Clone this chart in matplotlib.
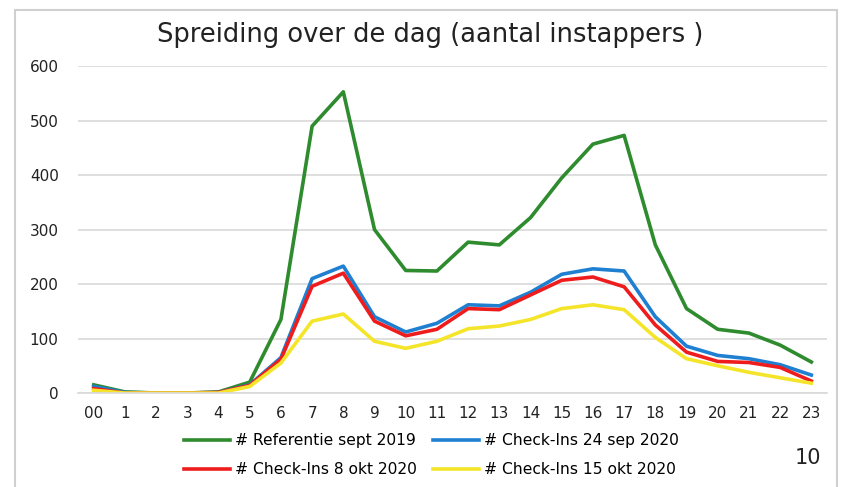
import matplotlib
matplotlib.use("Agg")
import matplotlib.pyplot as plt
from matplotlib.patches import Rectangle

hours = ["00"] + [str(h) for h in range(1, 24)]

ref_2019 = [15, 2, 0, 0, 2, 20, 135, 490, 553, 300, 225, 224, 277, 272, 322, 395, 457, 473, 272, 155, 117, 110, 88, 57]
checkins_24sep = [12, 1, 0, 0, 1, 15, 65, 210, 233, 140, 112, 128, 162, 160, 185, 218, 228, 224, 140, 86, 69, 63, 52, 33]
checkins_8okt = [8, 0, 0, 0, 1, 14, 62, 196, 220, 132, 105, 117, 155, 153, 180, 207, 213, 195, 125, 75, 58, 56, 47, 22]
checkins_15okt = [5, 0, 0, 0, 0, 12, 55, 132, 145, 95, 82, 95, 118, 123, 135, 155, 162, 153, 102, 63, 50, 38, 28, 18]

series = [
    ("# Referentie sept 2019", ref_2019, "#2e8b2e"),
    ("# Check-Ins 24 sep 2020", checkins_24sep, "#1f7fd1"),
    ("# Check-Ins 8 okt 2020", checkins_8okt, "#ee1c1c"),
    ("# Check-Ins 15 okt 2020", checkins_15okt, "#f5e52a"),
]

fig = plt.figure(figsize=(8.49, 4.87), dpi=100)
fig.patches.append(Rectangle((0.018, -0.01), 0.968, 0.99, transform=fig.transFigure,
                             fill=False, edgecolor="#d0d0d0", linewidth=1.5))

ax = fig.add_axes([0.092, 0.193, 0.882, 0.671])
x = list(range(len(hours)))
lines = []
for label, vals, color in series:
    ln, = ax.plot(x, vals, color=color, linewidth=2.6, label=label)
    lines.append(ln)

ax.set_xlim(-0.5, 23.5)
ax.set_ylim(0, 600)
ax.set_yticks(range(0, 601, 100))
ax.set_xticks(x)
ax.set_xticklabels(hours)
ax.grid(axis="y", color="#d9d9d9", linewidth=1.2)
ax.set_axisbelow(True)
for s in ["top", "right", "left"]:
    ax.spines[s].set_visible(False)
ax.spines["bottom"].set_color("#d9d9d9")
ax.spines["bottom"].set_linewidth(1.2)
ax.tick_params(length=0, labelsize=11, colors="#222222")
ax.tick_params(axis="x", pad=9)
ax.tick_params(axis="y", pad=14)

fig.text(0.507, 0.928, "Spreiding over de dag (aantal instappers )", ha="center", va="center",
         fontsize=18.5, color="#222222")

# matplotlib fills legend column-wise, so order for row-wise layout
order = [0, 2, 1, 3]
fig.legend([lines[i] for i in order], [series[i][0] for i in order],
           loc="center", bbox_to_anchor=(0.508, 0.065), ncol=2, frameon=False,
           fontsize=11.2, handlelength=3, columnspacing=1.0, handletextpad=0.3,
           labelspacing=0.9)

fig.text(0.952, 0.06, "10", ha="center", va="center", fontsize=15, color="#222222")

fig.savefig("out.png", dpi=100)
